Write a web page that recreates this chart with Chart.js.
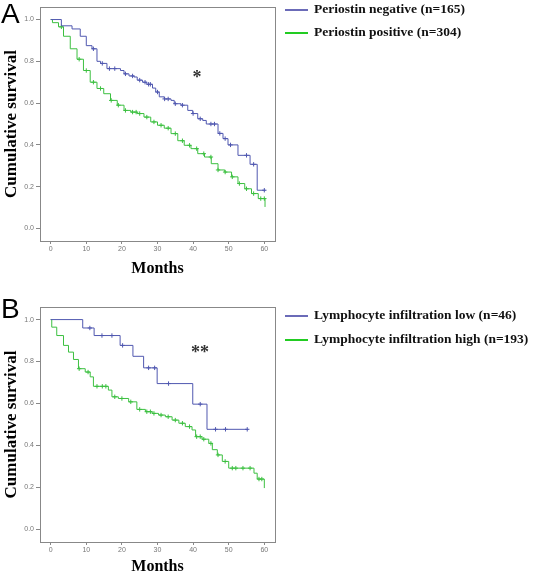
<!DOCTYPE html>
<html>
<head>
<meta charset="utf-8">
<script src="https://cdn.jsdelivr.net/npm/chart.js@4.4.1/dist/chart.umd.min.js"></script>
<style>
  html, body { margin: 0; padding: 0; background: #fff; }
  #wrap { position: relative; width: 534px; height: 576px; overflow: hidden; }
  canvas { position: absolute; left: 0; }
</style>
</head>
<body>
<div id="wrap">
  <canvas id="chartA" width="534" height="280" style="top:0px"></canvas>
  <canvas id="chartB" width="534" height="296" style="top:280px"></canvas>
</div>
<script>
// tick labels shared by both panels
const monthTicks = [0, 10, 20, 30, 40, 50, 60];
const survTicks = [0.0, 0.2, 0.4, 0.6, 0.8, 1.0];

// Panel A - Periostin
const labelsA = ["Periostin negative (n=165)", "Periostin positive (n=304)"];
const timesNegA = [0, 3, 6, 8.3, 10, 11.6, 13, 14, 15.8, 19.6, 20.6, 22, 23.4, 24.3, 25.8, 27, 28.6, 29.5, 30.5, 31.9, 33.8, 34.7, 36.6, 38.5, 39.9, 41.3, 42.7, 43.7, 47, 48.4, 49.8, 52.6, 56, 58, 60.3];
const survNegA = [1.0, 0.97, 0.955, 0.92, 0.875, 0.86, 0.80, 0.79, 0.765, 0.756, 0.74, 0.73, 0.725, 0.71, 0.70, 0.69, 0.672, 0.653, 0.63, 0.62, 0.613, 0.597, 0.59, 0.565, 0.55, 0.525, 0.517, 0.50, 0.455, 0.43, 0.40, 0.35, 0.307, 0.183, 0.183];
const censorNegA = [12, 14.5, 16.5, 18, 21, 23, 25, 26.5, 27.5, 28, 30, 32, 33, 35, 37, 40, 42, 45, 46, 47.5, 49, 50.5, 55, 57, 60];
const timesPosA = [0, 0.5, 2.2, 3.6, 5.5, 7.4, 9.2, 11.1, 13, 14.9, 16.8, 18.7, 20.6, 22.5, 24.3, 26.2, 28.1, 30, 31.9, 33.8, 35.7, 37.5, 39.4, 41.3, 43.2, 45.1, 47, 48.9, 50.8, 52.6, 54.5, 56.4, 58.3, 60.2];
const survPosA = [1.0, 0.985, 0.965, 0.92, 0.86, 0.81, 0.756, 0.70, 0.67, 0.645, 0.613, 0.59, 0.565, 0.557, 0.55, 0.533, 0.51, 0.494, 0.48, 0.454, 0.42, 0.398, 0.382, 0.358, 0.342, 0.31, 0.28, 0.27, 0.247, 0.215, 0.19, 0.167, 0.143, 0.103];
const censorPosA = [3, 8, 10, 12, 14, 17, 19, 21, 23, 24, 25, 27, 29, 31, 33, 35, 37, 39, 41, 43, 45, 47, 49, 51, 53, 55, 57, 59, 60];

// Panel B - Lymphocyte infiltration
const labelsB = ["Lymphocyte infiltration low (n=46)", "Lymphocyte infiltration high (n=193)"];
const timesLowB = [0, 9, 12.2, 19.5, 23.1, 26.1, 29.9, 39.9, 43.9, 55.5];
const survLowB = [1.0, 0.96, 0.924, 0.877, 0.825, 0.77, 0.695, 0.597, 0.477, 0.477];
const censorLowB = [11, 14.4, 17.2, 20.2, 27.5, 29.2, 33.1, 42, 46.3, 49.1, 55.2];
const timesHighB = [0, 0.3, 1.7, 3.6, 5, 6.4, 7.8, 9.7, 11.1, 12, 16.2, 17.2, 19, 21.9, 24.2, 26.6, 28.5, 30.3, 32.2, 34.1, 36, 37.8, 39.7, 40.7, 42.5, 44.4, 45.4, 46.8, 48.2, 50, 57.1, 58, 60];
const survHighB = [1.0, 0.964, 0.924, 0.877, 0.845, 0.81, 0.766, 0.75, 0.727, 0.682, 0.664, 0.632, 0.624, 0.608, 0.572, 0.561, 0.553, 0.545, 0.537, 0.521, 0.506, 0.49, 0.474, 0.442, 0.43, 0.41, 0.38, 0.355, 0.324, 0.292, 0.268, 0.24, 0.197];
const censorHighB = [8, 10.5, 13, 14.5, 15.5, 18, 20, 22.5, 25, 27, 28, 29, 31, 33, 35, 37, 39, 41, 42, 43, 45, 47, 49, 51, 52, 54, 56, 58.5, 59.3];

const blue = "#5058b0";
const green = "#3cc040";
const legendBlue = "#6b6bb8";
const legendGreen = "#22cc22";

// survival value at time t (step function lookup)
function survAt(times, surv, t) {
    let s = surv[0];
    for (let i = 0; i < times.length; i++) {
        if (times[i] <= t) s = surv[i];
    }
    return s;
}

function stepData(times, surv) {
    return times.map((t, i) => ({ x: t, y: surv[i] }));
}

function censorData(times, surv, cens) {
    return cens.map(t => ({ x: t, y: survAt(times, surv, t) }));
}

function curve(times, surv, color) {
    return {
        type: "line",
        data: stepData(times, surv),
        borderColor: color,
        borderWidth: 1,
        stepped: true,
        pointRadius: 0,
        fill: false,
    };
}

function marks(times, surv, cens, color) {
    return {
        type: "scatter",
        data: censorData(times, surv, cens),
        borderColor: color,
        backgroundColor: color,
        pointStyle: "cross",
        pointRadius: 2.2,
        borderWidth: 1,
        showLine: false,
    };
}

// frame, legend, panel letter and asterisk
function extras(letter, letterY, labels, legendY, star, starX, starY) {
    return {
        id: "extras" + letter,
        afterDraw(chart) {
            const c = chart.ctx;
            const a = chart.chartArea;
            c.save();
            c.strokeStyle = "#888";
            c.lineWidth = 1;
            c.strokeRect(Math.round(a.left) + 0.5, Math.round(a.top) + 0.5, Math.round(a.right - a.left), Math.round(a.bottom - a.top));

            const cols = [legendBlue, legendGreen];
            c.font = "bold 13.5px 'Liberation Serif', 'Times New Roman', serif";
            c.textBaseline = "middle";
            c.fillStyle = "#111";
            labels.forEach((txt, i) => {
                c.strokeStyle = cols[i];
                c.lineWidth = 2;
                c.beginPath();
                c.moveTo(285, legendY[i]);
                c.lineTo(308, legendY[i]);
                c.stroke();
                c.fillText(txt, 314, legendY[i]);
            });

            c.font = "28px 'Liberation Sans', Arial, sans-serif";
            c.textBaseline = "alphabetic";
            c.fillStyle = "#000";
            c.fillText(letter, 1, letterY);

            c.font = "bold 18px 'Liberation Serif', serif";
            c.fillStyle = "#333";
            c.textAlign = "center";
            c.textBaseline = "middle";
            c.fillText(star, starX, starY);
            c.restore();
        },
    };
}

function makeChart(id, datasets, padTop, xHeight, titlePad, plugin) {
    const ctx = document.getElementById(id).getContext("2d");
    return new Chart(ctx, {
        data: { datasets: datasets },
        options: {
            responsive: false,
            animation: false,
            layout: { padding: { top: padTop, right: 259, bottom: 0, left: 0 } },
            plugins: { legend: { display: false }, tooltip: { enabled: false } },
            scales: {
                x: {
                    type: "linear",
                    min: -3,
                    max: 63,
                    afterBuildTicks: s => { s.ticks = monthTicks.map(v => ({ value: v })); },
                    afterFit: s => { s.height = xHeight; },
                    ticks: { font: { size: 7, family: "Liberation Sans" }, color: "#777", padding: 1, maxRotation: 0 },
                    grid: { drawOnChartArea: false, drawTicks: true, tickLength: 3, color: "#888" },
                    border: { display: false },
                    title: {
                        display: true,
                        text: "Months",
                        color: "#000",
                        font: { family: "'Liberation Serif', serif", size: 16, weight: "bold" },
                        padding: { top: 0, bottom: titlePad },
                    },
                },
                y: {
                    type: "linear",
                    min: -0.06,
                    max: 1.06,
                    afterBuildTicks: s => { s.ticks = survTicks.map(v => ({ value: v })); },
                    afterFit: s => { s.width = 40; },
                    ticks: {
                        font: { size: 7, family: "Liberation Sans" },
                        color: "#777",
                        padding: 2,
                        callback: v => v.toFixed(1),
                    },
                    grid: { drawOnChartArea: false, drawTicks: true, tickLength: 4, color: "#888" },
                    border: { display: false },
                    title: {
                        display: true,
                        text: "Cumulative survival",
                        color: "#000",
                        font: { family: "'Liberation Serif', serif", size: 17, weight: "bold" },
                        padding: { top: 1, bottom: 0 },
                    },
                },
            },
        },
        plugins: [plugin],
    });
}

makeChart("chartA", [
    curve(timesNegA, survNegA, blue),
    marks(timesNegA, survNegA, censorNegA, blue),
    curve(timesPosA, survPosA, green),
    marks(timesPosA, survPosA, censorPosA, green),
], 7, 39, 2, extras("A", 23, labelsA, [10, 33], "*", 197, 78));

makeChart("chartB", [
    curve(timesLowB, survLowB, blue),
    marks(timesLowB, survLowB, censorLowB, blue),
    curve(timesHighB, survHighB, green),
    marks(timesHighB, survHighB, censorHighB, green),
], 27, 34, 0, extras("B", 38, labelsB, [36, 60], "**", 200, 73));
</script>
</body>
</html>
